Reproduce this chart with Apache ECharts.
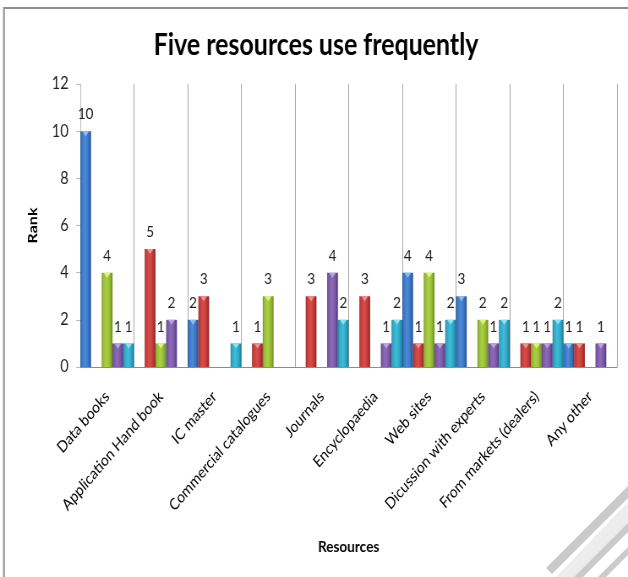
<!DOCTYPE html>
<html>
<head>
<meta charset="utf-8">
<script src="https://cdn.jsdelivr.net/npm/echarts@6/dist/echarts.min.js"></script>
<style>
html,body{margin:0;padding:0;background:#fff;overflow:hidden;}
#main{width:743px;height:577px;transform:scaleX(0.8452);transform-origin:0 0;}
</style>
</head>
<body>
<div id="main"></div>
<script>
// ---- data ----
var categories = ['Data books','Application Hand book','IC master','Commercial catalogues','Journals','Encyclopaedia','Web sites','Dicussion with experts','From markets (dealers)','Any other'];
var seriesNames = ['Series 1','Series 2','Series 3','Series 4','Series 5'];
var series1 = [10, 0, 2, 0, 0, 0, 4, 3, 0, 1];
var series2 = [0, 5, 3, 1, 3, 3, 1, 0, 1, 1];
var series3 = [4, 1, 0, 3, 0, 0, 4, 2, 1, 0];
var series4 = [1, 2, 0, 0, 4, 1, 1, 1, 1, 1];
var series5 = [1, 0, 1, 0, 2, 2, 2, 2, 2, 0];
var yTicks = [0, 2, 4, 6, 8, 10, 12];

var allValues = [series1, series2, series3, series4, series5];
var palette = [
  {dark:'#22508e', main:'#3a74c0', light:'#4c8bd8', tip:'#8cbcf2'},
  {dark:'#8a2422', main:'#c23b38', light:'#d84e4a', tip:'#f29090'},
  {dark:'#6a881c', main:'#94ba34', light:'#acd046', tip:'#def57a'},
  {dark:'#513879', main:'#7957a5', light:'#8d6cba', tip:'#bba2e0'},
  {dark:'#1a7a93', main:'#2ea6c3', light:'#42bcd8', tip:'#8ae2f4'}
];

function grad(p){
  return new echarts.graphic.LinearGradient(0,0,1,0,[
    {offset:0,color:p.dark},{offset:0.1,color:p.main},
    {offset:0.45,color:p.light},{offset:0.75,color:p.main},{offset:1,color:p.dark}
  ]);
}
function shown(arr){ return arr.map(function(v){ return v === 0 ? '-' : v; }); }

var FONT = 'Lato, "Open Sans", sans-serif';
var C = 0.8452;
var series = [];
allValues.forEach(function(vals, i){
  series.push({
    name: seriesNames[i], type:'bar', data: shown(vals),
    barGap:'0%', barCategoryGap:'0%',
    itemStyle:{color:grad(palette[i])},
    label:{show:true, position:'top', distance:9, color:'#222', fontFamily:FONT, fontSize:16},
    z:2
  });
});
allValues.forEach(function(vals, i){
  series.push({
    name: seriesNames[i] + ' top', type:'pictorialBar', data: shown(vals),
    barGap:'0%', barCategoryGap:'0%',
    symbol:'triangle', symbolRotate:180, symbolSize:[8,5], symbolPosition:'end',
    itemStyle:{color:palette[i].tip}, silent:true, z:3, tooltip:{show:false}
  });
});

var chart = echarts.init(document.getElementById('main'), null, {renderer:'canvas'});
chart.setOption({
  animation:false,
  backgroundColor:'#fff',
  grid:{left:95, right:13, top:84, bottom:210, containLabel:false},
  xAxis:{
    type:'category', data:categories, boundaryGap:true,
    name:'Resources', nameLocation:'middle', nameGap:172,
    nameTextStyle:{fontFamily:FONT, fontWeight:'bold', fontSize:16, color:'#000'},
    axisLine:{show:true, lineStyle:{color:'#8c8c8c', width:1}},
    axisTick:{show:false},
    splitLine:{show:true, lineStyle:{color:'#a8a8a8', width:1}},
    axisLabel:{interval:0, rotate:45, margin:27, fontFamily:FONT, fontSize:16, color:'#000'}
  },
  yAxis:{
    type:'value', min:0, max:12, interval:2,
    name:'Rank', nameLocation:'middle', nameGap:48, nameRotate:90,
    nameTextStyle:{fontFamily:FONT, fontWeight:'bold', fontSize:16, color:'#000'},
    axisLine:{show:true, lineStyle:{color:'#bdbdbd', width:1}},
    axisTick:{show:true, length:5, lineStyle:{color:'#bdbdbd'}},
    splitLine:{show:false},
    axisLabel:{margin:14, fontFamily:FONT, fontSize:17, color:'#222',
      formatter:function(v){ return yTicks.indexOf(v) >= 0 ? String(v) : ''; }}
  },
  graphic:[
    {type:'rect', shape:{x:4.7, y:8, width:900, height:800}, style:{fill:'none', stroke:'#8e8e8e', lineWidth:2}, z:0, silent:true},
    {type:'text', x:374, y:45, style:{text:'Five resources use frequently', font:'bold 29.5px Lato, "Open Sans", sans-serif', fill:'#000', textAlign:'center', textVerticalAlign:'middle'}, z:10},
    {type:'polygon', shape:{points:[[546/C,568],[552/C,574],[628/C,498],[628/C,486]]}, style:{fill:'#cacaca'}, z:1, silent:true},
    {type:'polygon', shape:{points:[[556/C,577],[574/C,577],[628/C,523],[628/C,502]]}, style:{fill:'#ededed'}, z:1, silent:true},
    {type:'polygon', shape:{points:[[574/C,577],[583/C,577],[628/C,532],[628/C,523]]}, style:{fill:'#cacaca'}, z:1, silent:true},
    {type:'polygon', shape:{points:[[598/C,577],[606/C,577],[628/C,555],[628/C,547]]}, style:{fill:'#cacaca'}, z:1, silent:true}
  ],
  series:series
});
</script>
</body>
</html>
